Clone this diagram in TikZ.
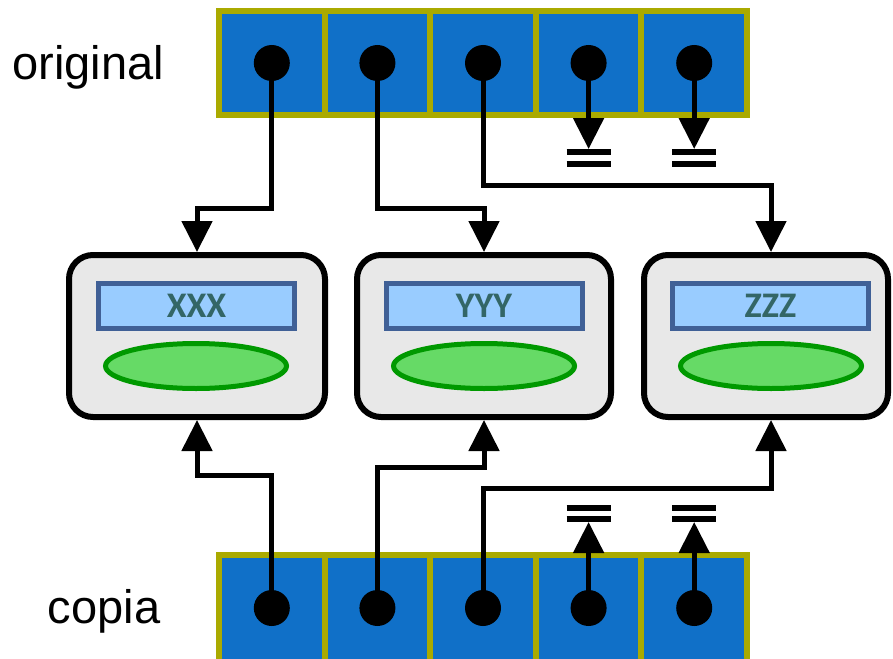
\documentclass[tikz,border=0pt]{standalone}
\usepackage{fontspec}
\setmainfont{Liberation Sans}
\newfontfamily\boxfont{Carlito}
\usetikzlibrary{arrows.meta,shapes.geometric,calc}
\definecolor{cellblue}{RGB}{16,112,200}
\definecolor{arrolive}{RGB}{170,170,0}
\definecolor{boxgray}{RGB}{232,232,232}
\definecolor{lblborder}{RGB}{64,96,150}
\definecolor{lblfill}{RGB}{153,204,255}
\definecolor{lbltext}{RGB}{51,102,102}
\definecolor{ovalborder}{RGB}{0,153,0}
\definecolor{ovalfill}{RGB}{102,218,102}
\tikzset{
  cell/.style={draw=arrolive, fill=cellblue, line width=6pt, minimum width=105.6pt, minimum height=104pt, inner sep=0pt, outer sep=0pt},
  dot/.style={circle, fill=black, minimum size=36pt, inner sep=0pt},
  obj/.style={draw=black, fill=boxgray, line width=6pt, rounded corners=24pt, minimum height=162pt, inner sep=0pt, outer sep=0pt},
  lbl/.style={draw=lblborder, fill=lblfill, line width=5pt, minimum width=196pt, minimum height=45pt, inner sep=0pt, text=lbltext, font=\boxfont\bfseries\fontsize{36}{36}\selectfont},
  oval/.style={ellipse, draw=ovalborder, fill=ovalfill, line width=5pt, minimum width=181pt, minimum height=45pt, inner sep=0pt},
  conn/.style={line width=5pt, -{Triangle[width=30pt,length=31pt]}},
  bar/.style={line width=6pt},
  side/.style={font=\fontsize{47}{50}\selectfont, inner sep=0pt}
}
\begin{document}
\begin{tikzpicture}[x=1pt,y=-1pt]
\useasboundingbox (0,0) rectangle (893,658);
% arrays
\foreach \i/\x in {1/271.8,2/377.4,3/483,4/588.6,5/694.2}{
  \node[cell] (c\i) at (\x,63) {};
  \node[cell, minimum height=112pt] (d\i) at (\x,611) {};
}
\node[side] (lo) at (88,67) {original};
\node[side] (lc) at (104,611) {copia};
% objects
\node[obj, minimum width=256pt] (b1) at (197,336) {};
\node[obj, minimum width=254pt] (b2) at (484,336) {};
\node[obj, minimum width=244pt] (b3) at (766,336) {};
\node[lbl] (l1) at (196.5,306) {XXX};
\node[lbl] (l2) at (484,306) {YYY};
\node[lbl] (l3) at (770.5,306) {ZZZ};
\node[oval] (e1) at (196,366) {};
\node[oval] (e2) at (484,366) {};
\node[oval] (e3) at (771,366) {};
% dots
\foreach \i in {1,...,5}{
  \node[dot] (o\i) at (c\i.center) {};
  \node[dot] (p\i) at ([yshift=3pt]d\i.center) {};
}
% ground coordinates
\coordinate (gt4) at (588.6,149);
\coordinate (gt5) at (694.2,149);
\coordinate (gb4) at (588.6,522);
\coordinate (gb5) at (694.2,522);
% top connectors
\draw[conn] (o1.center) -- ++(0,145) -| ([yshift=3pt]b1.north);
\draw[conn] (o2.center) -- ++(0,145) -| ([yshift=3pt]b2.north);
\draw[conn] (o3.center) -- ++(0,122) -| ([xshift=5pt,yshift=3pt]b3.north);
\draw[conn] (o4.center) -- (gt4);
\draw[conn] (o5.center) -- (gt5);
% bottom connectors
\draw[conn] (p1.center) -- ++(0,-133) -| ([yshift=-3pt]b1.south);
\draw[conn] (p2.center) -- ++(0,-141) -| ([yshift=-3pt]b2.south);
\draw[conn] (p3.center) -- ++(0,-120) -| ([xshift=5pt,yshift=-3pt]b3.south);
\draw[conn] (p4.center) -- (gb4);
\draw[conn] (p5.center) -- (gb5);
% ground bars
\foreach \g in {gt4,gt5}{
  \draw[bar] ([xshift=-22pt,yshift=-3pt]\g) -- ([xshift=22pt,yshift=-3pt]\g);
  \draw[bar] ([xshift=-22pt,yshift=-15pt]\g) -- ([xshift=22pt,yshift=-15pt]\g);
}
\foreach \g in {gb4,gb5}{
  \draw[bar] ([xshift=-22pt,yshift=3.5pt]\g) -- ([xshift=22pt,yshift=3.5pt]\g);
  \draw[bar] ([xshift=-22pt,yshift=14pt]\g) -- ([xshift=22pt,yshift=14pt]\g);
}
\end{tikzpicture}
\end{document}
